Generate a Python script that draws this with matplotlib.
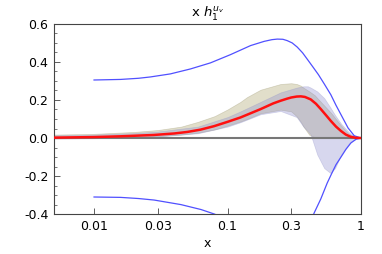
import matplotlib
matplotlib.use("Agg")
import matplotlib.pyplot as plt
from matplotlib.ticker import FixedLocator, MultipleLocator, FixedFormatter

# blue outer bounds
bu_x = [0.01, 0.0158, 0.0215, 0.0264, 0.0373, 0.0527, 0.0745, 0.105, 0.149, 0.188,
        0.215, 0.236, 0.26, 0.28, 0.305, 0.333, 0.365, 0.4, 0.44, 0.48, 0.53, 0.594,
        0.65, 0.708, 0.8, 0.89, 1.0]
bu_y = [0.305, 0.308, 0.314, 0.321, 0.337, 0.363, 0.395, 0.438, 0.486, 0.508,
        0.517, 0.52, 0.519, 0.512, 0.5, 0.478, 0.448, 0.41, 0.37, 0.333, 0.285, 0.228,
        0.172, 0.123, 0.053, 0.012, 0.0]
bl1_x = [0.01, 0.0158, 0.0215, 0.0282, 0.0448, 0.0634, 0.08, 0.086]
bl1_y = [-0.31, -0.312, -0.318, -0.326, -0.35, -0.376, -0.4, -0.41]
bl2_x = [0.43, 0.445, 0.5, 0.558, 0.6, 0.65, 0.708, 0.77, 0.84, 0.92, 1.0]
bl2_y = [-0.42, -0.395, -0.32, -0.237, -0.19, -0.14, -0.1, -0.06, -0.026, -0.006, 0.0]

# central curve
red_x = [0.005, 0.01, 0.0158, 0.028, 0.04, 0.05, 0.0627, 0.079, 0.1, 0.125, 0.177,
         0.22, 0.25, 0.28, 0.3, 0.33, 0.354, 0.38, 0.42, 0.46, 0.5, 0.55, 0.594, 0.65,
         0.708, 0.77, 0.84, 0.92, 1.0]
red_y = [0.002, 0.005, 0.009, 0.016, 0.024, 0.032, 0.044, 0.062, 0.085, 0.108, 0.152,
         0.182, 0.196, 0.207, 0.213, 0.218, 0.219, 0.216, 0.203, 0.18, 0.152, 0.118, 0.09,
         0.06, 0.037, 0.018, 0.006, 0.001, 0.0]

# yellow band
yb_x = [0.005, 0.01, 0.02, 0.03, 0.045, 0.06, 0.08, 0.1, 0.125, 0.14, 0.177, 0.25, 0.3, 0.33,
        0.354, 0.37, 0.41, 0.45, 0.5, 0.6, 0.7, 0.8, 0.9, 1.0]
yb_hi = [0.018, 0.022, 0.032, 0.042, 0.06, 0.085, 0.115, 0.15, 0.19, 0.215, 0.254, 0.284, 0.288,
         0.284, 0.275, 0.265, 0.245, 0.225, 0.19, 0.13, 0.07, 0.025, 0.005, 0.0]
yb_lo = [-0.002, 0.0, 0.004, 0.01, 0.018, 0.028, 0.045, 0.065, 0.087, 0.1, 0.13, 0.149, 0.14,
         0.114, 0.085, 0.061, 0.017, 0.004, 0.0, 0.0, 0.0, 0.0, 0.0, 0.0]

# purple band
pb_x = [0.005, 0.01, 0.02, 0.03, 0.06, 0.1, 0.125, 0.177, 0.25, 0.33, 0.37, 0.4, 0.42, 0.47,
        0.53, 0.59, 0.64, 0.71, 0.8, 0.84, 0.92, 1.0]
pb_hi = [0.014, 0.018, 0.026, 0.034, 0.06, 0.11, 0.14, 0.19, 0.24, 0.265, 0.272, 0.272, 0.265,
         0.245, 0.21, 0.16, 0.12, 0.075, 0.035, 0.02, 0.005, 0.0]
pb_lo = [-0.003, -0.001, 0.003, 0.008, 0.025, 0.06, 0.083, 0.125, 0.142, 0.11, 0.06, 0.035, 0.018,
         -0.087, -0.158, -0.184, -0.158, -0.087, -0.035, -0.018, -0.004, 0.0]

xticks = [0.01, 0.03, 0.1, 0.3, 1]
xlabels = ["0.01", "0.03", "0.1", "0.3", "1"]

plt.rc('font', size=9, family='DejaVu Sans')
fig = plt.figure(figsize=(3.82, 2.54), dpi=100)
ax = fig.add_axes([0.141, 0.157, 0.804, 0.749])

ax.fill_between(yb_x, yb_lo, yb_hi, color='#bdb68a', alpha=0.45, lw=0.5, edgecolor='#a8a480')
ax.fill_between(pb_x, pb_lo, pb_hi, color='#8f8fcf', alpha=0.35, lw=0.5, edgecolor='#9090c8')
ax.axhline(0, color='#777777', lw=1.5, zorder=3)
ax.plot(bu_x, bu_y, color='#5050ff', lw=0.9, zorder=4)
ax.plot(bl1_x, bl1_y, color='#5050ff', lw=0.9, zorder=4)
ax.plot(bl2_x, bl2_y, color='#5050ff', lw=0.9, zorder=4)
ax.plot(red_x, red_y, color='#ff1010', lw=1.8, zorder=5)

ax.set_xscale('log')
ax.set_xlim(0.005, 1)
ax.set_ylim(-0.4, 0.6)
ax.xaxis.set_major_locator(FixedLocator(xticks))
ax.xaxis.set_major_formatter(FixedFormatter(xlabels))
ax.xaxis.set_minor_locator(FixedLocator([]))
ax.yaxis.set_major_locator(MultipleLocator(0.2))
ax.yaxis.set_minor_locator(MultipleLocator(0.05))
ax.set_yticklabels(["%.1f" % v if abs(v) > 1e-9 else "0.0" for v in ax.get_yticks()])
ax.tick_params(direction='in', length=4, width=0.6, color='#444444', pad=4)
ax.tick_params(which='minor', direction='in', length=2, width=0.5, color='#444444')
ax.tick_params(axis='y', right=False)
for s in ax.spines.values():
    s.set_color('#444444')
    s.set_linewidth(0.8)

ax.set_xlabel('x', labelpad=3)
ax.set_title(r'x $h_1^{u_v}$', fontsize=9.5, pad=5)

plt.savefig('out.png', dpi=100)
